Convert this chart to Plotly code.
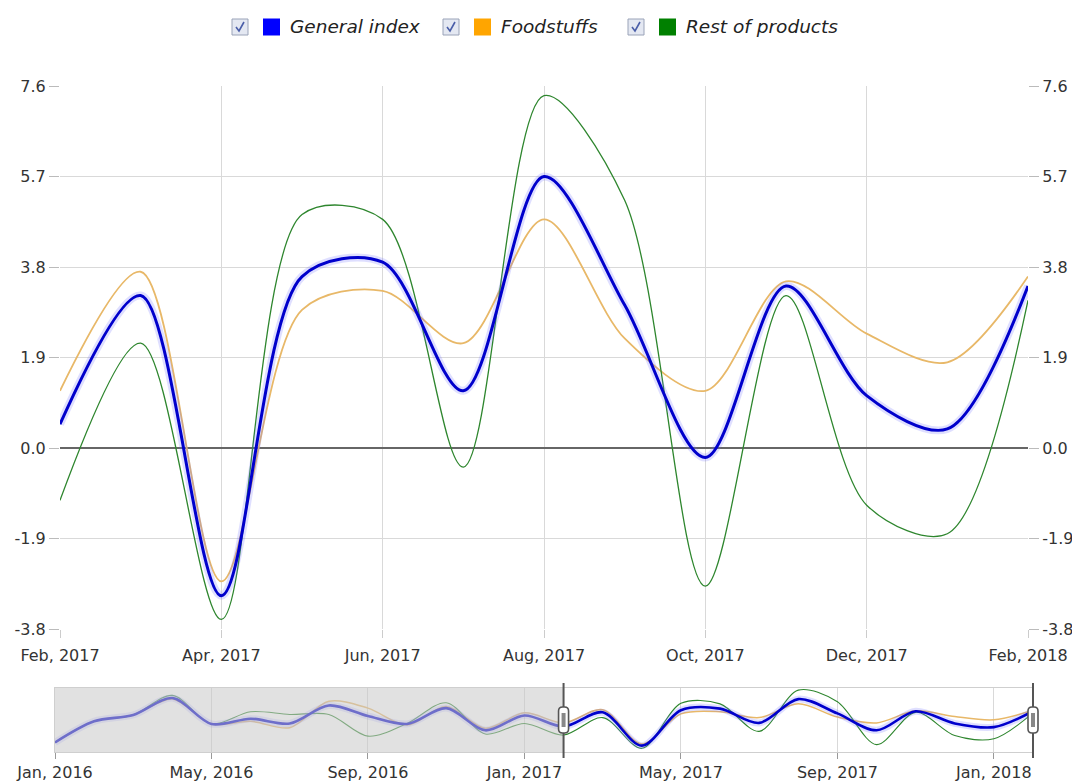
import plotly.graph_objects as go
import datetime as _dt

# ---------------- data ----------------
dates = ["2016-01-01", "2016-02-01", "2016-03-01", "2016-04-01", "2016-05-01", "2016-06-01",
         "2016-07-01", "2016-08-01", "2016-09-01", "2016-10-01", "2016-11-01", "2016-12-01",
         "2017-01-01", "2017-02-01", "2017-03-01", "2017-04-01", "2017-05-01", "2017-06-01",
         "2017-07-01", "2017-08-01", "2017-09-01", "2017-10-01", "2017-11-01", "2017-12-01",
         "2018-01-01", "2018-02-01"]

general_index = [-2.5, 1.5, 2.7, 5.9, 1.0, 2.0, 1.1, 4.5, 2.5, 1.0, 4.0, -0.2,
                 2.6, 0.5, 3.2, -3.1, 3.6, 3.9, 1.2, 5.7, 3.0, -0.2, 3.4, 1.1,
                 0.4, 3.4]
foodstuffs = [-2.5, 1.5, 2.7, 5.7, 1.0, 1.5, 0.3, 5.3, 4.0, 0.8, 4.3, 0.2,
              3.1, 1.2, 3.7, -2.8, 2.9, 3.3, 2.2, 4.8, 2.3, 1.2, 3.5, 2.4,
              1.8, 3.6]
rest_of_products = [-2.5, 1.5, 2.7, 6.4, 1.0, 3.3, 2.8, 2.8, -1.3, 1.1, 5.0, -0.9,
                    1.1, -1.1, 2.2, -3.6, 4.9, 4.8, -0.4, 7.4, 5.2, -2.9, 3.2, -1.2,
                    -1.8, 3.1]

series_names = ["General index", "Foodstuffs", "Rest of products"]
main_start = "2017-02-01"          # first month shown in the main chart
y_ticks = [-3.8, -1.9, 0.0, 1.9, 3.8, 5.7, 7.6]
y_tick_labels = [f"{v:.1f}" for v in y_ticks]

# month labels ("Feb, 2017") and evenly spaced month positions
month_labels = [_dt.date.fromisoformat(d).strftime("%b, %Y") for d in dates]
month_pos = list(range(len(dates)))

# ---------------- styles ----------------
FONT = "DejaVu Sans"
BLUE, BLUE_SQ = "#0000CC", "#0000FF"
ORANGE, ORANGE_SQ = "#E8B868", "#FFA500"
GREEN, GREEN_SQ = "#2E862E", "#008000"
GRID = "#d9d9d9"

W, H = 1080, 783
OFF = 8  # page body margin: figure pixel = screen pixel - OFF
X_LEFT, X_RIGHT, Y_TOP, Y_BOT = 55, 1033, 86, 752
ML = X_LEFT - OFF
MT = Y_TOP - OFF
MR = W - (X_RIGHT - OFF)
MB = H - (Y_BOT - OFF)
PW, PH = X_RIGHT - X_LEFT, Y_BOT - Y_TOP


def px(x):
    return (x - X_LEFT) / PW


def py(y):
    return (Y_BOT - y) / PH


i0 = dates.index(main_start)
m_pos = month_pos[i0:]
m_gen = general_index[i0:]
m_food = foodstuffs[i0:]
m_rest = rest_of_products[i0:]

fig = go.Figure()

spl = dict(shape="spline", smoothing=0.9)

# main chart
fig.add_trace(go.Scatter(x=m_pos, y=m_food, mode="lines", name=series_names[1],
                         line=dict(color=ORANGE, width=1.8, **spl), xaxis="x", yaxis="y"))
fig.add_trace(go.Scatter(x=m_pos, y=m_rest, mode="lines", name=series_names[2],
                         line=dict(color=GREEN, width=1.3, **spl), xaxis="x", yaxis="y"))
fig.add_trace(go.Scatter(x=m_pos, y=m_gen, mode="lines", name=series_names[0] + " shadow",
                         line=dict(color="rgba(110,110,255,0.22)", width=8, **spl),
                         hoverinfo="skip", xaxis="x", yaxis="y3"))
fig.add_trace(go.Scatter(x=m_pos, y=m_gen, mode="lines", name=series_names[0],
                         line=dict(color=BLUE, width=3, **spl), xaxis="x", yaxis="y3"))

# navigator
fig.add_trace(go.Scatter(x=month_pos, y=foodstuffs, mode="lines", line=dict(color=ORANGE, width=1.5, **spl),
                         xaxis="x2", yaxis="y2", hoverinfo="skip"))
fig.add_trace(go.Scatter(x=month_pos, y=rest_of_products, mode="lines", line=dict(color=GREEN, width=1.1, **spl),
                         xaxis="x2", yaxis="y2", hoverinfo="skip"))
fig.add_trace(go.Scatter(x=month_pos, y=general_index, mode="lines",
                         line=dict(color="rgba(110,110,255,0.22)", width=7, **spl),
                         xaxis="x2", yaxis="y2", hoverinfo="skip"))
fig.add_trace(go.Scatter(x=month_pos, y=general_index, mode="lines", line=dict(color=BLUE, width=2.6, **spl),
                         xaxis="x2", yaxis="y2", hoverinfo="skip"))

tickfont = dict(family=FONT, size=16, color="#333")
y_common = dict(range=[y_ticks[0], y_ticks[-1]], tickvals=y_ticks, ticktext=y_tick_labels,
                ticks="outside", ticklen=10, tickcolor="#bbb", tickfont=tickfont,
                domain=[py(629), 1.0], fixedrange=True, automargin=False)

nav_range = [-4.3, 7.8]
main_ticks = month_pos[i0::2]
nav_ticks = month_pos[::4]

fig.update_layout(
    width=W, height=H,
    margin=dict(l=ML, r=MR, t=MT, b=MB, autoexpand=False),
    paper_bgcolor="white", plot_bgcolor="white",
    showlegend=False,
    font=dict(family=FONT, size=16, color="#333"),
    xaxis=dict(domain=[px(60), px(1028)], anchor="y",
               range=[m_pos[0], m_pos[-1]], tickvals=main_ticks,
               ticktext=[month_labels[i] for i in main_ticks],
               showgrid=True, gridcolor=GRID, gridwidth=1,
               ticks="outside", ticklen=8, tickcolor="#ccc", tickfont=tickfont,
               ticklabelstandoff=4, zeroline=False, showline=False, automargin=False),
    yaxis=dict(anchor="x", side="left", showgrid=True, gridcolor=GRID,
               zeroline=True, zerolinecolor="#666", zerolinewidth=2, **y_common),
    yaxis3=dict(anchor="x", overlaying="y", side="right", showgrid=False, zeroline=False,
                **y_common),
    xaxis2=dict(domain=[0, 1], anchor="y2", range=[month_pos[0], month_pos[-1]],
                tickvals=nav_ticks, ticktext=[month_labels[i] for i in nav_ticks],
                showgrid=True, gridcolor=GRID, ticks="outside", ticklen=6, tickcolor="#999",
                tickfont=tickfont, showline=True, mirror=True, linecolor="#cfcfcf",
                zeroline=False, automargin=False),
    yaxis2=dict(domain=[0, py(688)], anchor="x2", range=nav_range, showgrid=False,
                zeroline=False, showticklabels=False, ticks="", showline=True,
                mirror=True, linecolor="#cfcfcf", fixedrange=True, automargin=False),
)

# ---- navigator mask and handles ----
shapes = []
shapes.append(dict(type="rect", xref="x2", yref="y2 domain", x0=month_pos[0], x1=m_pos[0],
                   y0=0, y1=1, fillcolor="rgba(200,200,200,0.55)", line=dict(width=0),
                   layer="above"))


def nav_paper(i):
    return (i - month_pos[0]) / (month_pos[-1] - month_pos[0])


nav_mid = py((688 + 752) / 2)
for hi in (m_pos[0], m_pos[-1]):
    hx = nav_paper(hi)
    shapes.append(dict(type="line", xref="paper", yref="paper", x0=hx, x1=hx,
                       y0=py(758), y1=py(683), line=dict(color="#555", width=2), layer="above"))
    shapes.append(dict(type="path", xref="paper", yref="paper", xsizemode="pixel",
                       ysizemode="pixel", xanchor=hx, yanchor=nav_mid,
                       path="M -5,-9 Q -5,-13 -1,-13 L 1,-13 Q 5,-13 5,-9 L 5,9 Q 5,13 1,13 "
                            "L -1,13 Q -5,13 -5,9 Z",
                       fillcolor="white", line=dict(color="#555", width=1.6), layer="above"))
    shapes.append(dict(type="rect", xref="paper", yref="paper", xsizemode="pixel",
                       ysizemode="pixel", xanchor=hx, yanchor=nav_mid, x0=-2, x1=2, y0=-7, y1=7,
                       fillcolor="#888", line=dict(width=0), layer="above"))

# ---- legend (checkbox + colour square + italic label) ----
legend_x = [232, 443, 628]
legend_colors = [BLUE_SQ, ORANGE_SQ, GREEN_SQ]
annotations = []
ly = 27
for name, col, lx in zip(series_names, legend_colors, legend_x):
    shapes.append(dict(type="rect", xref="paper", yref="paper",
                       x0=px(lx), x1=px(lx + 16), y0=py(ly + 8), y1=py(ly - 8),
                       fillcolor="#e4e8f2", line=dict(color="#9aa3b8", width=1)))
    shapes.append(dict(type="path", xref="paper", yref="paper",
                       path=f"M {px(lx + 4)},{py(ly)} L {px(lx + 7)},{py(ly + 4)} L {px(lx + 12)},{py(ly - 5)}",
                       line=dict(color="#4a5ea8", width=1.6)))
    shapes.append(dict(type="rect", xref="paper", yref="paper",
                       x0=px(lx + 31), x1=px(lx + 48), y0=py(ly + 8.5), y1=py(ly - 8.5),
                       fillcolor=col, line=dict(width=0)))
    annotations.append(dict(xref="paper", yref="paper", x=px(lx + 56), y=py(ly),
                            xanchor="left", yanchor="middle", showarrow=False,
                            text=f"<i>{name}</i>",
                            font=dict(family=FONT, size=18.5, color="#222")))

fig.update_layout(shapes=shapes, annotations=annotations)

fig.write_html("out.html")
